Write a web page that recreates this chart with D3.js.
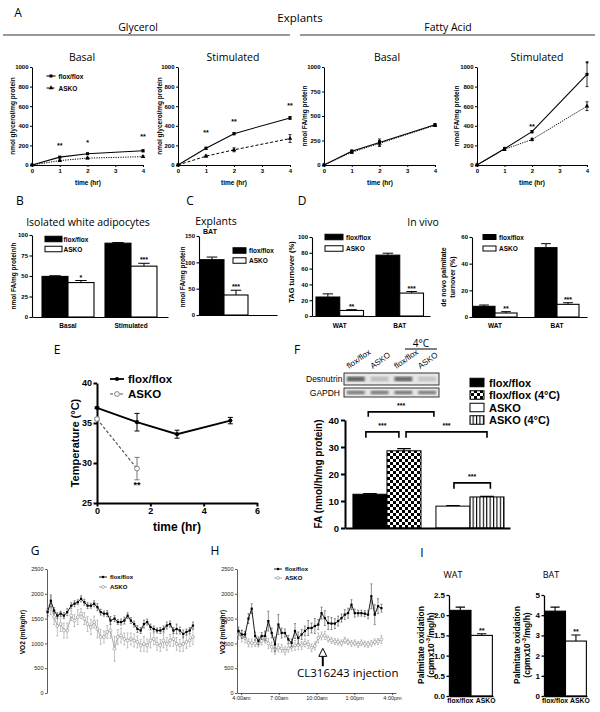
<!DOCTYPE html>
<html><head><meta charset="utf-8">
<script src="https://cdn.jsdelivr.net/npm/d3@7"></script>
<style>
body{margin:0;background:#fff;}
svg{display:block;}
</style></head><body>
<svg id="c" width="600" height="712"></svg>
<script>
// ================= DATA =================
// Panel A (explants, time course)
const timeA = [0, 1, 2, 4];
const glyBasalFlox = [0, 80, 115, 145];
const glyBasalFloxErr = [0, 8, 6, 10];
const glyBasalAsko = [0, 45, 70, 85];
const glyBasalAskoErr = [0, 6, 8, 8];
const glyStimFlox = [0, 170, 320, 480];
const glyStimFloxErr = [0, 12, 12, 15];
const glyStimAsko = [0, 90, 155, 270];
const glyStimAskoErr = [0, 10, 20, 40];
const faBasalFlox = [0, 140, 230, 410];
const faBasalFloxErr = [0, 15, 35, 12];
const faBasalAsko = [0, 130, 220, 405];
const faBasalAskoErr = [0, 12, 30, 10];
const faStimFlox = [0, 165, 340, 925];
const faStimFloxErr = [0, 15, 12, 125];
const faStimAsko = [0, 160, 260, 600];
const faStimAskoErr = [0, 12, 12, 45];
const starsGlyBasal = [[1, 195, '**'], [2, 230, '*'], [4, 290, '**']];
const starsGlyStim = [[1, 330, '**'], [2, 440, '**'], [4, 610, '**']];
const starsFaStim = [[2, 395, '**'], [4, 1035, '*']];

// Panel B
const bCats = ['Basal', 'Stimulated'];
const bFlox = [49.5, 90], bFloxErr = [0.8, 0.8];
const bAsko = [42, 62], bAskoErr = [2.5, 3.5];
const bStars = ['*', '***'];
// Panel C
const cCats = ['BAT'];
const cFlox = [105], cFloxErr = [5];
const cAsko = [38], cAskoErr = [9];
const cStars = ['***'];
// Panel D
const dCats = ['WAT', 'BAT'];
const dTagFlox = [24, 77], dTagFloxErr = [4, 2.5];
const dTagAsko = [7, 29], dTagAskoErr = [1, 2];
const dPalFlox = [8, 52], dPalFloxErr = [1, 3];
const dPalAsko = [3, 9.5], dPalAskoErr = [1, 1.2];
const dStars = ['**', '***'];
// Panel E
const eFloxT = [0, 1.5, 3, 5];
const eFlox = [36.9, 35.1, 33.6, 35.3];
const eFloxErr = [0.1, 1.1, 0.5, 0.4];
const eAskoT = [0, 1.5];
const eAsko = [35.5, 29.3];
const eAskoErr = [0.2, 1.4];
// Panel F
const fGroups = ['flox/flox', 'ASKO'];
const fCtrl = [12.5, 8.1], fCtrlErr = [0.2, 0.2];
const fCold = [28.6, 11.5], fColdErr = [0.8, 0.2];
const fLegend = ['flox/flox', 'flox/flox (4°C)', 'ASKO', 'ASKO (4°C)'];
const blotLanes = ['flox/flox', 'ASKO', 'flox/flox', 'ASKO'];
const blotDesnutrin = [0.75, 0.22, 0.7, 0.18];
const blotGapdh = [0.6, 0.6, 0.62, 0.58];
// Panel G (hours after 3:00pm)
const gTimes = [-0.3,0.1,0.5,0.9,1.3,1.7,2.1,2.6,3.0,3.4,3.8,4.2,4.6,5.0,5.4,5.8,6.2,6.6,7.0,7.4,7.9,8.3,8.7,9.1,9.5,9.9,10.3,10.7,11.1,11.5,11.9,12.3,12.7,13.1,13.5,13.9,14.3,14.7,15.1,15.5,15.9,16.3,16.7,17.1,17.5];
const gFlox = [1630,1860,1660,1560,1600,1560,1630,1760,1800,1830,1900,1830,1760,1760,1800,1730,1630,1600,1600,1460,1500,1430,1430,1460,1560,1460,1390,1290,1260,1390,1430,1330,1290,1260,1260,1290,1360,1390,1260,1290,1260,1190,1230,1260,1360];
const gFloxErr = [80,120,60,60,50,60,70,60,60,50,60,60,60,50,60,70,60,50,60,80,60,50,60,70,60,60,60,70,60,80,60,60,60,50,60,60,70,60,60,100,70,80,60,60,70];
const gAsko = [1660,1760,1530,1350,1390,1260,1260,1560,1460,1530,1600,1500,1390,1330,1430,1290,1130,1130,1230,1260,890,1130,1160,1090,1060,1090,1060,1030,960,990,960,1060,1090,990,960,1060,990,1060,1090,990,960,990,1030,1060,1130];
const gAskoErr = [100,180,150,200,150,150,150,100,120,150,100,120,150,150,120,180,150,120,130,150,250,150,150,120,150,120,130,120,120,150,130,150,120,130,120,150,130,120,150,130,120,150,130,120,150];
const gTickLabels = ['3:00pm', '9:00pm', '3:00am', '9:00am'];
// Panel H (hours after 4:00am)
const hTimes = [-0.2,0.06,0.32,0.59,0.85,1.12,1.38,1.64,1.91,2.17,2.44,2.7,2.97,3.23,3.49,3.76,4.02,4.29,4.55,4.82,5.08,5.34,5.61,5.87,6.14,6.4,6.66,6.93,7.19,7.46,7.72,7.99,8.25,8.51,8.78,9.04,9.31,9.57,9.84,10.1,10.36,10.63,10.89,11.16];
const hFlox = [1250,1180,1180,1500,1700,1150,1050,1150,1150,1450,1210,980,1380,1210,1210,1080,1010,1250,1110,1180,1250,1310,1310,1350,1380,1610,1510,1410,1400,1400,1450,1510,1580,1610,1780,1610,1610,1610,1600,1580,1950,1580,1750,1710];
const hFloxErr = [80,80,60,100,100,80,80,70,100,200,100,150,200,100,80,80,80,150,120,100,100,150,100,150,100,120,150,130,120,100,100,80,100,100,100,80,60,60,60,80,250,200,150,80];
const hAsko = [1180,1150,1110,1010,1010,1000,1000,1050,1110,1000,930,880,910,900,850,900,930,960,970,960,1010,980,910,950,1110,1150,1160,1090,1060,1040,1030,1010,1060,1030,1000,1010,980,1010,990,980,1000,1030,1040,1080];
const hAskoErr = [100,120,100,80,80,60,70,80,100,100,100,100,80,80,80,80,80,100,100,80,80,80,80,80,100,80,80,60,60,60,60,60,60,60,60,60,60,60,60,60,60,60,60,80];
const hTickLabels = ['4:00am', '7:00am', '10:00am', '1:00pm', '4:00pm'];
const hInjection = { t: 6.5, tip: 900, tail: 540, label: 'CL316243 injection' };
// Panel I
const iCats = ['flox/flox', 'ASKO'];
const iWat = [2.12, 1.5], iWatErr = [0.08, 0.04];
const iBat = [4.2, 2.72], iBatErr = [0.2, 0.3];
const iStars = ['', '**'];

// ================= HELPERS =================
const svg = d3.select('#c');
const SANS = '"Liberation Sans", Arial, Helvetica, sans-serif';
const TTL = '"Open Sans", "Noto Sans", sans-serif';

function T(x, y, s, fs, o = {}) {
  const t = svg.append('text').attr('x', x).attr('y', y)
    .attr('font-size', fs).attr('font-family', o.ff || SANS)
    .attr('font-weight', o.fw || 'normal').attr('text-anchor', o.a || 'middle')
    .attr('dominant-baseline', o.db || 'central').attr('fill', o.fill || '#000');
  if (o.rot) t.attr('transform', `rotate(${o.rot},${x},${y})`);
  t.text(s);
  return t;
}
function styleAxis(a, o) {
  a.selectAll('path.domain').attr('stroke', o.ac || '#000').attr('stroke-width', o.sw);
  a.selectAll('.tick line').attr('stroke', o.ac || '#000').attr('stroke-width', o.sw);
  a.selectAll('.tick text').attr('font-size', o.fs).attr('font-family', SANS)
    .attr('font-weight', o.fw || 'bold').attr('fill', o.tc || '#000');
}
function drawSeries(g, x, y, s) {
  const pts = s.xs.map((t, i) => ({ t, v: s.ys[i], e: s.err ? s.err[i] : 0 }));
  if (s.err) {
    const c = s.cap;
    g.append('g').selectAll('path').data(pts.filter(p => p.e > 0)).join('path')
      .attr('d', p => { const xx = x(p.t), a = y(p.v + p.e), b = y(p.v - p.e);
        return `M${xx},${a}V${b}M${xx - c},${a}H${xx + c}M${xx - c},${b}H${xx + c}`; })
      .attr('stroke', s.ec || s.color).attr('stroke-width', s.ew || 0.8).attr('fill', 'none');
  }
  g.append('path').attr('d', d3.line().x(p => x(p.t)).y(p => y(p.v))(pts))
    .attr('fill', 'none').attr('stroke', s.color).attr('stroke-width', s.lw)
    .attr('stroke-dasharray', s.dash || null);
  g.append('g').selectAll('path').data(pts).join('path')
    .attr('transform', p => `translate(${x(p.t)},${y(p.v)})`)
    .attr('d', d3.symbol().type(s.sym).size(s.size))
    .attr('fill', s.mf).attr('stroke', s.ms || 'none').attr('stroke-width', s.msw || 0.8);
}
function lineChart(c) {
  const g = svg.append('g');
  const x = d3.scaleLinear().domain(c.xd).range([c.L, c.R]);
  const y = d3.scaleLinear().domain(c.yd).range([c.B, c.T]);
  const ax = g.append('g').attr('transform', `translate(0,${c.B})`)
    .call(d3.axisBottom(x).tickValues(c.xt).tickSize(c.ts).tickSizeOuter(0).tickPadding(c.tp).tickFormat(c.xf || (d => d)));
  styleAxis(ax, c);
  const ay = g.append('g').attr('transform', `translate(${c.L},0)`)
    .call(d3.axisLeft(y).tickValues(c.yt).tickSize(c.ts).tickSizeOuter(0).tickPadding(c.tp).tickFormat(c.yf || (d => d)));
  styleAxis(ay, c);
  c.series.forEach(s => drawSeries(g, x, y, s));
  (c.stars || []).forEach(st => {
    g.append('text').attr('x', x(st[0])).attr('y', y(st[1])).attr('text-anchor', 'middle')
      .attr('dominant-baseline', 'central').attr('font-size', c.starFs || 7)
      .attr('font-family', SANS).attr('font-weight', 'bold').text(st[2]);
  });
  return { g, x, y, ax };
}
function barChart(c) {
  const g = svg.append('g');
  const x0 = d3.scaleBand().domain(c.groups).range([c.L, c.R]).paddingInner(c.pi).paddingOuter(c.po).align(c.al);
  const x1 = d3.scaleBand().domain(c.series.map((s, i) => i)).range([0, x0.bandwidth()]);
  const y = d3.scaleLinear().domain(c.yd).range([c.B, c.T]);
  const bx = (gi, si) => x0(c.groups[gi]) + x1(si);
  c.series.forEach((s, si) => {
    const data = c.groups.map((gname, gi) => ({ gi, v: s.values[gi], e: s.err ? s.err[gi] : 0 }));
    const cap = x1.bandwidth() * (c.capf || 0.22);
    g.append('g').selectAll('path').data(data.filter(d => d.e > 0)).join('path')
      .attr('d', d => { const cx = bx(d.gi, si) + x1.bandwidth() / 2, t = y(d.v + d.e);
        return `M${cx},${y(d.v)}V${t}M${cx - cap},${t}H${cx + cap}`; })
      .attr('stroke', '#000').attr('stroke-width', c.ew || 1).attr('fill', 'none');
    g.append('g').selectAll('rect').data(data).join('rect')
      .attr('x', d => bx(d.gi, si)).attr('y', d => y(d.v))
      .attr('width', x1.bandwidth()).attr('height', d => y(0) - y(d.v))
      .attr('fill', d => Array.isArray(s.fill) ? s.fill[d.gi] : s.fill)
      .attr('stroke', '#000').attr('stroke-width', c.bsw || 1);
    if (s.stars) g.append('g').selectAll('text').data(data.filter(d => s.stars[d.gi])).join('text')
      .attr('x', d => bx(d.gi, si) + x1.bandwidth() / 2).attr('y', d => y(d.v + d.e) - (c.starOff || 1))
      .attr('text-anchor', 'middle').attr('font-size', c.starFs || 7).attr('font-family', SANS)
      .attr('font-weight', 'bold').text(d => s.stars[d.gi]);
  });
  const ax = g.append('g').attr('transform', `translate(0,${c.B})`)
    .call(d3.axisBottom(x0).tickSize(0).tickSizeOuter(0).tickPadding(c.xtp || 6).tickFormat(c.showCats ? (d => d) : ''));
  styleAxis(ax, c);
  if (c.catFs) ax.selectAll('.tick text').attr('font-size', c.catFs);
  if (c.catDx) ax.selectAll('.tick text').attr('dx', (d, i) => c.catDx[i]);
  const ay = g.append('g').attr('transform', `translate(${c.L},0)`)
    .call(d3.axisLeft(y).tickValues(c.yt).tickSize(c.ts).tickSizeOuter(0).tickPadding(c.tp).tickFormat(c.yf || (d => d)));
  styleAxis(ay, c);
  return { g, x0, x1, y, bx };
}
function barLegend(x, y0, step, w, h, items, fs, gap) {
  items.forEach((it, i) => {
    const yc = y0 + i * step;
    svg.append('rect').attr('x', x).attr('y', yc - h / 2).attr('width', w).attr('height', h)
      .attr('fill', it.fill).attr('stroke', '#000').attr('stroke-width', 1);
    T(x + w + gap, yc, it.label, fs, { a: 'start', fw: 'bold' });
  });
}
function lineLegend(x, y, len, s, label, fs, gap) {
  svg.append('line').attr('x1', x - len / 2).attr('x2', x + len / 2).attr('y1', y).attr('y2', y)
    .attr('stroke', s.color).attr('stroke-width', s.lw).attr('stroke-dasharray', s.dash || null);
  svg.append('path').attr('transform', `translate(${x},${y})`).attr('d', d3.symbol().type(s.sym).size(s.size))
    .attr('fill', s.mf).attr('stroke', s.ms || 'none').attr('stroke-width', s.msw || 0.8);
  T(x + len / 2 + gap, y, label, fs, { a: 'start', fw: 'bold' });
}

// patterns
const defs = svg.append('defs');
const chk = defs.append('pattern').attr('id', 'chk').attr('width', 6).attr('height', 6).attr('patternUnits', 'userSpaceOnUse');
chk.append('rect').attr('width', 6).attr('height', 6).attr('fill', '#fff');
chk.append('rect').attr('width', 3).attr('height', 3).attr('fill', '#000');
chk.append('rect').attr('x', 3).attr('y', 3).attr('width', 3).attr('height', 3).attr('fill', '#000');
const stp = defs.append('pattern').attr('id', 'stp').attr('width', 3.4).attr('height', 4).attr('patternUnits', 'userSpaceOnUse');
stp.append('rect').attr('width', 3.4).attr('height', 4).attr('fill', '#fff');
stp.append('rect').attr('width', 1.1).attr('height', 4).attr('fill', '#000');
defs.append('filter').attr('id', 'blur').append('feGaussianBlur').attr('stdDeviation', 1.3);
defs.append('clipPath').attr('id', 'gclip').append('rect').attr('x', 0).attr('y', 500).attr('width', 204).attr('height', 212);

// ================= PANEL A =================
T(18, 12, 'A', 12, { ff: TTL });
T(300, 17, 'Explants', 11.5, { ff: TTL });
T(138, 27, 'Glycerol', 10.5, { ff: TTL });
T(448, 27, 'Fatty Acid', 10.5, { ff: TTL });
svg.append('line').attr('x1', 3).attr('x2', 290).attr('y1', 35).attr('y2', 35).attr('stroke', '#333').attr('stroke-width', 1);
svg.append('line').attr('x1', 300).attr('x2', 595).attr('y1', 35).attr('y2', 35).attr('stroke', '#333').attr('stroke-width', 1);

const sFlox = { color: '#000', lw: 1.1, sym: d3.symbolSquare, size: 9, mf: '#000', cap: 1.5, ew: 0.8 };
const sAskoDot = { color: '#000', lw: 1, dash: '1.2,1.2', sym: d3.symbolTriangle, size: 9, mf: '#000', cap: 1.5, ew: 0.8 };
const sAskoDash = { color: '#000', lw: 1, dash: '3,2', sym: d3.symbolTriangle, size: 9, mf: '#000', cap: 1.5, ew: 0.8 };
const aBase = { T: 67, B: 165, ts: 2, tp: 1.5, fs: 6, sw: 1, xd: [0, 4], yd: [0, 1000], xt: [0, 1, 2, 3, 4], starFs: 7 };

lineChart({ ...aBase, L: 32, R: 143, yt: [0, 200, 400, 600, 800, 1000], stars: starsGlyBasal,
  series: [
    { ...sAskoDot, xs: timeA, ys: glyBasalAsko, err: glyBasalAskoErr },
    { ...sFlox, xs: timeA, ys: glyBasalFlox, err: glyBasalFloxErr }] });
lineChart({ ...aBase, L: 178, R: 290, yt: [0, 200, 400, 600, 800, 1000], stars: starsGlyStim,
  series: [
    { ...sAskoDash, xs: timeA, ys: glyStimAsko, err: glyStimAskoErr },
    { ...sFlox, xs: timeA, ys: glyStimFlox, err: glyStimFloxErr }] });
lineChart({ ...aBase, L: 324, R: 435, yt: [0, 250, 500, 750, 1000],
  series: [
    { ...sAskoDot, xs: timeA, ys: faBasalAsko, err: faBasalAskoErr },
    { ...sFlox, xs: timeA, ys: faBasalFlox, err: faBasalFloxErr }] });
lineChart({ ...aBase, L: 477, R: 587, yt: [0, 200, 400, 600, 800, 1000], stars: starsFaStim,
  series: [
    { ...sAskoDot, xs: timeA, ys: faStimAsko, err: faStimAskoErr },
    { ...sFlox, xs: timeA, ys: faStimFlox, err: faStimFloxErr }] });
T(82, 57, 'Basal', 10.5, { ff: TTL });
T(233, 57, 'Stimulated', 10.5, { ff: TTL });
T(387, 57, 'Basal', 10.5, { ff: TTL });
T(537, 57, 'Stimulated', 10.5, { ff: TTL });
[[88, 182], [234, 182], [380, 182], [532, 182]].forEach(p => T(p[0], p[1], 'time (hr)', 6.5, { fw: 'bold' }));
T(12, 116, 'nmol glycerol/mg protein', 6.5, { fw: 'bold', rot: -90 });
T(159, 116, 'nmol glycerol/mg protein', 6.5, { fw: 'bold', rot: -90 });
T(304, 116, 'nmol FA/mg protein', 6.5, { fw: 'bold', rot: -90 });
T(456, 116, 'nmol FA/mg protein', 6.5, { fw: 'bold', rot: -90 });
lineLegend(51, 76, 9, sFlox, 'flox/flox', 6.5, 3);
lineLegend(51, 88, 9, sAskoDash, 'ASKO', 6.5, 3);

// ================= PANEL B / C / D =================
T(20, 200, 'B', 12, { ff: TTL });
T(88, 222, 'Isolated white adipocytes', 10.5, { ff: TTL });
T(190, 200, 'C', 12, { ff: TTL });
T(216, 221, 'Explants', 10.5, { ff: TTL });
T(210, 231, 'BAT', 7, { fw: 'bold' });
T(302, 200, 'D', 12, { ff: TTL });
T(423, 222, 'In vivo', 10.5, { ff: TTL });

const bdBase = { ts: 2.5, tp: 1.5, fs: 6, sw: 1.1, bsw: 1.1, ew: 1, starFs: 7 };
barChart({ ...bdBase, L: 32, R: 168, B: 317, T: 235, yd: [0, 100], yt: [0, 25, 50, 75, 100],
  groups: bCats, pi: 0.175, po: 0.167, al: 0.476, showCats: true, catFs: 6.5, xtp: 6,
  series: [{ values: bFlox, err: bFloxErr, fill: '#000' }, { values: bAsko, err: bAskoErr, fill: '#fff', stars: bStars }] });
barLegend(45, 239, 10, 17, 5.5, [{ fill: '#000', label: 'flox/flox' }, { fill: '#fff', label: 'ASKO' }], 6.5, 1.5);
T(13, 276, 'nmol FA/mg protein/h', 6.5, { fw: 'bold', rot: -90 });

barChart({ ...bdBase, L: 199, R: 277, B: 315, T: 236, yd: [0, 150], yt: [0, 50, 100, 150],
  groups: cCats, pi: 0, po: 0.3125, al: 0.033,
  series: [{ values: cFlox, err: cFloxErr, fill: '#000' }, { values: cAsko, err: cAskoErr, fill: '#fff', stars: cStars }] });
barLegend(233, 250.5, 10, 13, 5.5, [{ fill: '#000', label: 'flox/flox' }, { fill: '#fff', label: 'ASKO' }], 6.5, 3);
T(182, 277, 'nmol FA/mg protein', 6.5, { fw: 'bold', rot: -90 });

barChart({ ...bdBase, L: 312, R: 430, B: 316, T: 237, yd: [0, 100], yt: [0, 20, 40, 60, 80, 100],
  groups: dCats, pi: 0.208, po: 0.0875, al: 0.38, showCats: true, catFs: 6.5, xtp: 7,
  series: [{ values: dTagFlox, err: dTagFloxErr, fill: '#000' }, { values: dTagAsko, err: dTagAskoErr, fill: '#fff', stars: dStars }] });
barLegend(325, 237, 11.5, 18, 5.5, [{ fill: '#000', label: 'flox/flox' }, { fill: '#fff', label: 'ASKO' }], 6.5, 3);
T(291, 272, 'TAG turnover (%)', 7.5, { fw: 'bold', rot: -90 });

barChart({ ...bdBase, L: 472, R: 587, B: 317, T: 237, yd: [0, 60], yt: [0, 20, 40, 60],
  groups: dCats, pi: 0.29, po: 0.0725, al: 0.11, showCats: true, catFs: 6.5, xtp: 6,
  series: [{ values: dPalFlox, err: dPalFloxErr, fill: '#000' }, { values: dPalAsko, err: dPalAskoErr, fill: '#fff', stars: dStars }] });
barLegend(483, 237, 11.5, 13, 5, [{ fill: '#000', label: 'flox/flox' }, { fill: '#fff', label: 'ASKO' }], 6.5, 3);
T(443, 277, 'de novo palmitate', 7, { fw: 'bold', rot: -90 });
T(452, 277, 'turnover (%)', 7, { fw: 'bold', rot: -90 });

// ================= PANEL E =================
T(57, 349, 'E', 12, { ff: TTL });
const eFloxS = { color: '#000', lw: 1.8, sym: d3.symbolCircle, size: 14, mf: '#000', cap: 2.5, ew: 1 };
const eAskoS = { color: '#555', lw: 1.2, dash: '3,2', sym: d3.symbolCircle, size: 18, mf: '#fff', ms: '#777', msw: 0.9, cap: 2.5, ew: 1, ec: '#777' };
lineChart({ L: 97, R: 257, B: 503, T: 383, xd: [0, 6], yd: [25, 40], xt: [0, 2, 4, 6], yt: [25, 30, 35, 40],
  ts: 3.5, tp: 1.5, fs: 9, sw: 2, starFs: 9, stars: [[1.5, 27.3, '**']],
  series: [{ ...eAskoS, xs: eAskoT, ys: eAsko, err: eAskoErr }, { ...eFloxS, xs: eFloxT, ys: eFlox, err: eFloxErr }] });
T(177, 527, 'time (hr)', 12, { fw: 'bold' });
T(75, 443, 'Temperature (°C)', 11, { fw: 'bold', rot: -90 });
lineLegend(117, 379, 14, eFloxS, 'flox/flox', 11.5, 4);
lineLegend(117, 394, 14, eAskoS, 'ASKO', 11.5, 4);

// ================= PANEL F =================
T(297, 349, 'F', 12, { ff: TTL });
// blot
const laneX = d3.scaleBand().domain(d3.range(blotLanes.length)).range([344, 439]);
[[373, 385, blotDesnutrin, 'Desnutrin'], [388, 397, blotGapdh, 'GAPDH']].forEach(r => {
  svg.append('rect').attr('x', 344).attr('y', r[0]).attr('width', 95).attr('height', r[1] - r[0])
    .attr('fill', '#e6e6e6').attr('stroke', '#222').attr('stroke-width', 0.9);
  svg.append('g').selectAll('rect').data(r[2]).join('rect')
    .attr('x', (d, i) => laneX(i) + 3).attr('width', laneX.bandwidth() - 6)
    .attr('y', r[0] + (r[1] - r[0]) * 0.3).attr('height', (r[1] - r[0]) * 0.4)
    .attr('fill', '#333').attr('opacity', d => d).attr('filter', 'url(#blur)');
});
T(306, 379, 'Desnutrin', 8.5, { a: 'start' });
T(340, 393, 'GAPDH', 8.5, { a: 'end' });
blotLanes.forEach((l, i) => T(laneX(i) + 5, 369, l, 8, { a: 'start', db: 'auto', rot: -35 }));
T(421, 343, '4°C', 10, { ff: TTL });
svg.append('line').attr('x1', 405).attr('x2', 437).attr('y1', 349).attr('y2', 349).attr('stroke', '#000').attr('stroke-width', 1);

const fc = barChart({ L: 345, R: 510, B: 528, T: 420, yd: [0, 40], yt: [0, 10, 20, 30, 40],
  ts: 4, tp: 2, fs: 9.5, sw: 2, bsw: 1, ew: 1.2, capf: 0.2,
  groups: fGroups, pi: 0.18, po: 0.084, al: 0.57,
  series: [{ values: fCtrl, err: fCtrlErr, fill: ['#000', '#fff'] }, { values: fCold, err: fColdErr, fill: ['url(#chk)', 'url(#stp)'] }] });
const fBw = fc.x1.bandwidth();
const fBrackets = [
  { a: [0, 0, 0.45], b: [1, 0, -0.06], v: 43, leg: 41.2 },
  { a: [0, 0, 0.38], b: [0, 1, 0.35], v: 35.6, leg: 33.4 },
  { a: [0, 1, 0.56], b: [1, 1, 0.5], v: 35.6, leg: 33.4 },
  { a: [1, 0, 0.53], b: [1, 1, 0.6], v: 16.7, leg: 14.5 }];
fBrackets.forEach(br => {
  const xa = fc.bx(br.a[0], br.a[1]) + br.a[2] * fBw, xb = fc.bx(br.b[0], br.b[1]) + br.b[2] * fBw;
  const yv = fc.y(br.v), yl = fc.y(br.leg);
  svg.append('path').attr('d', `M${xa},${yl}V${yv}H${xb}V${yl}`).attr('fill', 'none').attr('stroke', '#000').attr('stroke-width', 1.6);
  T((xa + xb) / 2, yv - 6, '***', 7, { fw: 'bold' });
});
T(318, 474, 'FA (nmol/h/mg protein)', 10, { fw: 'bold', rot: -90 });
barLegend(470, 382.5, 12.5, 14, 8.5, fLegend.map((l, i) => ({ label: l, fill: ['#000', 'url(#chk)', '#fff', 'url(#stp)'][i] })), 11, 5);

// ================= PANEL G =================
T(35, 550, 'G', 12, { ff: TTL });
const vBase = { B: 693, T: 569, yd: [0, 2500], yt: [0, 500, 1000, 1500, 2000, 2500], ts: 2, tp: 1.5, fs: 5.5, fw: 'normal', sw: 0.8, ac: '#333', tc: '#222' };
const vFlox = { color: '#000', lw: 0.9, sym: d3.symbolSquare, size: 5, mf: '#000', cap: 1, ew: 0.6, ec: '#444' };
const vAsko = { color: '#888', lw: 0.7, sym: d3.symbolCircle, size: 7, mf: '#fff', ms: '#888', msw: 0.6, cap: 1, ew: 0.6, ec: '#999' };
const gc = lineChart({ ...vBase, L: 47, R: 200, xd: [-0.37, 18.36], xt: [0, 6, 12, 18], xf: (d, i) => gTickLabels[i],
  series: [{ ...vAsko, xs: gTimes, ys: gAsko, err: gAskoErr }, { ...vFlox, xs: gTimes, ys: gFlox, err: gFloxErr }] });
gc.ax.attr('clip-path', 'url(#gclip)');
T(22, 632, 'VO2 (ml/kg/hr)', 6.5, { fw: 'bold', rot: -90 });
lineLegend(103, 577, 8, vFlox, 'flox/flox', 6, 3);
lineLegend(103, 587, 8, vAsko, 'ASKO', 6, 3);

// ================= PANEL H =================
T(215, 550, 'H', 12, { ff: TTL });
const hc = lineChart({ ...vBase, L: 237, R: 396, xd: [-0.32, 12.32], xt: [0, 3, 6, 9, 12], xf: (d, i) => hTickLabels[i],
  series: [{ ...vAsko, xs: hTimes, ys: hAsko, err: hAskoErr }, { ...vFlox, xs: hTimes, ys: hFlox, err: hFloxErr }] });
T(222, 632, 'VO2 (ml/kg/hr)', 6.5, { fw: 'bold', rot: -90 });
lineLegend(278, 569, 8, vFlox, 'flox/flox', 6, 3);
lineLegend(278, 578, 8, vAsko, 'ASKO', 6, 3);
{
  const ax = hc.x(hInjection.t), yt = hc.y(hInjection.tip), yb = hc.y(hInjection.tail);
  svg.append('line').attr('x1', ax).attr('x2', ax).attr('y1', yt + 8).attr('y2', yb).attr('stroke', '#000').attr('stroke-width', 2);
  svg.append('path').attr('d', `M${ax},${yt}L${ax - 4},${yt + 8}H${ax + 4}Z`).attr('fill', '#fff').attr('stroke', '#000').attr('stroke-width', 1);
  T(297, 672, hInjection.label, 11.5, { ff: TTL, a: 'start' });
}

// ================= PANEL I =================
T(422, 552, 'I', 12, { ff: TTL });
T(453, 574, 'WAT', 9, { ff: TTL });
T(551, 574, 'BAT', 9, { ff: TTL });
const iBase = { B: 696, T: 595, ts: 2.5, tp: 1.5, fs: 8, sw: 1.3, bsw: 1.1, ew: 1.1, starFs: 7, pi: 0, al: 0.5,
  showCats: true, catFs: 6.8, xtp: 2, catDx: [0, 4] };
barChart({ ...iBase, L: 449, R: 493, yd: [0, 2.5], yt: [0, 0.5, 1, 1.5, 2, 2.5], yf: d3.format('.1f'), po: 0.03,
  groups: iCats, series: [{ values: iWat, err: iWatErr, fill: ['#000', '#fff'], stars: iStars }] });
barChart({ ...iBase, L: 544, R: 587, yd: [0, 5], yt: [0, 1, 2, 3, 4, 5], po: 0.03,
  groups: iCats, series: [{ values: iBat, err: iBatErr, fill: ['#000', '#fff'], stars: iStars }] });
function palLabel(x1, x2, y) {
  T(x1, y, 'Palmitate oxidation', 8.5, { fw: 'bold', rot: -90 });
  const t = T(x2, y, '(cpmx10', 8.5, { fw: 'bold', rot: -90 });
  t.append('tspan').attr('dy', -3).attr('font-size', 6).text('-3');
  t.append('tspan').attr('dy', 3).text('/mg/h)');
}
palLabel(421, 431, 645);
palLabel(517, 527, 645);
</script>
</body></html>
